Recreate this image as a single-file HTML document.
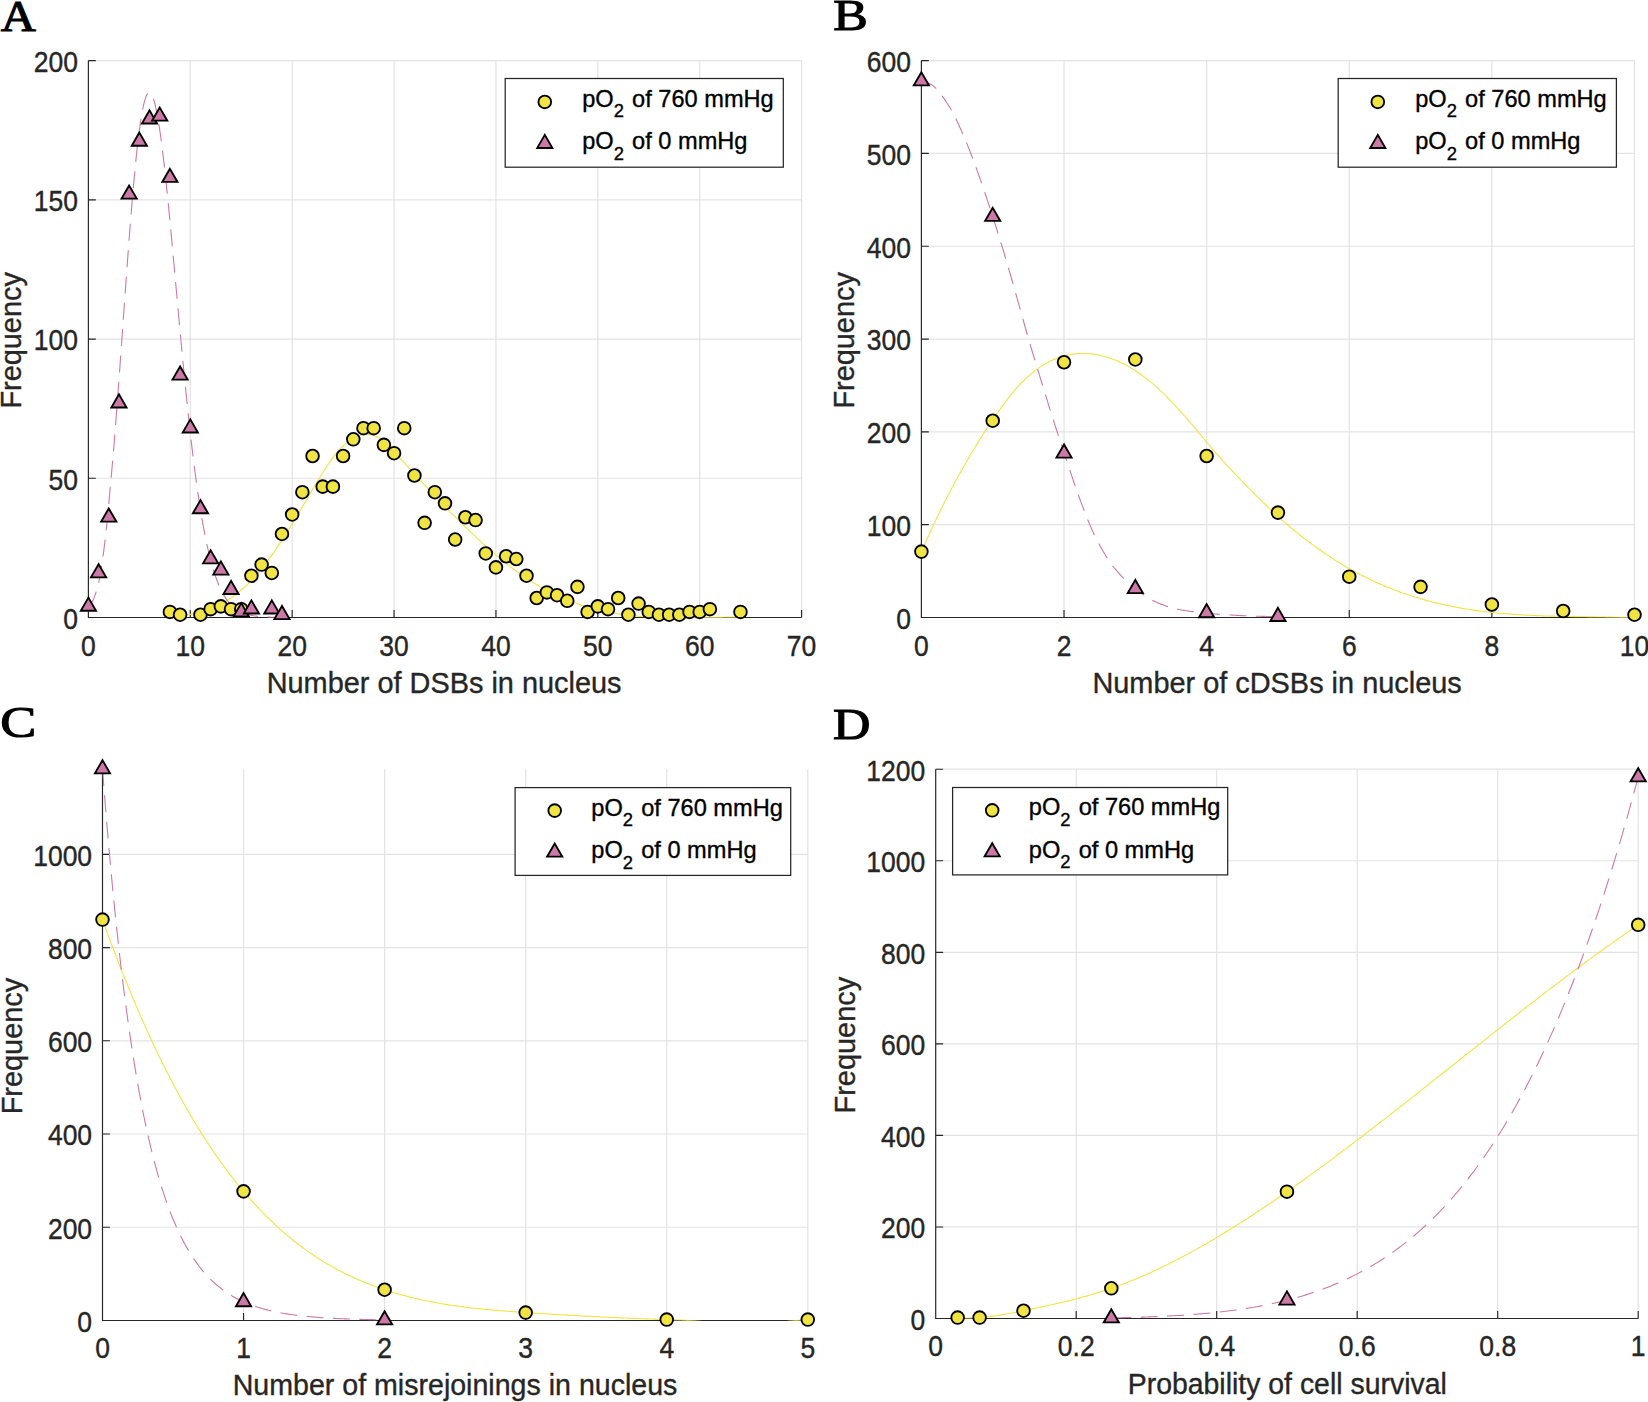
<!DOCTYPE html>
<html><head><meta charset="utf-8"><title>Figure</title>
<style>html,body{margin:0;padding:0;background:#fff}svg{display:block}text{stroke:#262626;stroke-width:0.35px;paint-order:stroke}text.lt{stroke:#000;stroke-width:1.1px;stroke-linejoin:miter}</style></head>
<body><svg width="1648" height="1402" viewBox="0 0 1648 1402" font-family="'Liberation Sans',Arial,sans-serif">
<rect width="1648" height="1402" fill="#fff"/>
<path d="M88.4 617.5V60.6M190.29 617.5V60.6M292.17 617.5V60.6M394.06 617.5V60.6M495.94 617.5V60.6M597.83 617.5V60.6M699.71 617.5V60.6M801.6 617.5V60.6M88.4 617.5H801.6M88.4 478.27H801.6M88.4 339.05H801.6M88.4 199.83H801.6M88.4 60.6H801.6" stroke="#e3e3e3" stroke-width="1.2" fill="none"/>
<clipPath id="c1"><rect x="88.4" y="60.6" width="713.2" height="557.2"/></clipPath>
<path d="M88.4 60.6V617.5H801.6M88.4 617.5v-7.4M190.29 617.5v-7.4M292.17 617.5v-7.4M394.06 617.5v-7.4M495.94 617.5v-7.4M597.83 617.5v-7.4M699.71 617.5v-7.4M801.6 617.5v-7.4M88.4 617.5h7.4M88.4 478.27h7.4M88.4 339.05h7.4M88.4 199.83h7.4M88.4 60.6h7.4" stroke="#262626" stroke-width="1.15" fill="none"/>
<path d="M164.81 616.76L166.26 616.72L167.7 616.66L169.14 616.59L170.59 616.52L172.03 616.43L173.47 616.34L174.91 616.24L176.36 616.12L177.8 615.99L179.24 615.85L180.68 615.7L182.13 615.53L183.57 615.35L185.01 615.15L186.46 614.94L187.9 614.71L189.34 614.47L190.78 614.21L192.23 613.93L193.67 613.64L195.11 613.32L196.55 612.99L198 612.63L199.44 612.26L200.88 611.86L202.33 611.45L203.77 611.01L205.21 610.55L206.65 610.06L208.1 609.55L209.54 609.02L210.98 608.46L212.42 607.88L213.87 607.27L215.31 606.64L216.75 605.97L218.2 605.28L219.64 604.56L221.08 603.81L222.52 603.04L223.97 602.23L225.41 601.39L226.85 600.52L228.29 599.62L229.74 598.69L231.18 597.72L232.62 596.72L234.07 595.69L235.51 594.62L236.95 593.52L238.39 592.38L239.84 591.2L241.28 589.99L242.72 588.74L244.17 587.45L245.61 586.13L247.05 584.76L248.49 583.36L249.94 581.91L251.38 580.43L252.82 578.9L254.26 577.33L255.71 575.72L257.15 574.06L258.59 572.37L260.04 570.63L261.48 568.86L262.92 567.05L264.36 565.2L265.81 563.32L267.25 561.4L268.69 559.44L270.13 557.46L271.58 555.44L273.02 553.4L274.46 551.32L275.91 549.22L277.35 547.08L278.79 544.93L280.23 542.74L281.68 540.54L283.12 538.31L284.56 536.06L286 533.79L287.45 531.5L288.89 529.19L290.33 526.86L291.78 524.51L293.22 522.15L294.66 519.78L296.1 517.39L297.55 515L298.99 512.59L300.43 510.17L301.87 507.74L303.32 505.3L304.76 502.86L306.2 500.41L307.65 497.96L309.09 495.5L310.53 493.04L311.97 490.58L313.42 488.12L314.86 485.68L316.3 483.24L317.74 480.83L319.19 478.43L320.63 476.07L322.07 473.73L323.52 471.43L324.96 469.17L326.4 466.96L327.84 464.79L329.29 462.67L330.73 460.62L332.17 458.63L333.62 456.7L335.06 454.84L336.5 453.06L337.94 451.36L339.39 449.74L340.83 448.2L342.27 446.73L343.71 445.35L345.16 444.05L346.6 442.82L348.04 441.68L349.49 440.62L350.93 439.63L352.37 438.73L353.81 437.91L355.26 437.18L356.7 436.52L358.14 435.95L359.58 435.46L361.03 435.05L362.47 434.74L363.91 434.51L365.36 434.37L366.8 434.33L368.24 434.38L369.68 434.53L371.13 434.78L372.57 435.12L374.01 435.58L375.45 436.13L376.9 436.8L378.34 437.57L379.78 438.45L381.23 439.43L382.67 440.5L384.11 441.66L385.55 442.9L387 444.2L388.44 445.57L389.88 447L391.32 448.47L392.77 449.98L394.21 451.53L395.65 453.11L397.1 454.7L398.54 456.31L399.98 457.92L401.42 459.53L402.87 461.13L404.31 462.74L405.75 464.34L407.2 465.93L408.64 467.53L410.08 469.12L411.52 470.71L412.97 472.29L414.41 473.87L415.85 475.45L417.29 477.02L418.74 478.59L420.18 480.16L421.62 481.72L423.07 483.28L424.51 484.84L425.95 486.39L427.39 487.94L428.84 489.48L430.28 491.02L431.72 492.56L433.16 494.09L434.61 495.61L436.05 497.13L437.49 498.65L438.94 500.16L440.38 501.67L441.82 503.17L443.26 504.67L444.71 506.17L446.15 507.65L447.59 509.14L449.03 510.62L450.48 512.09L451.92 513.56L453.36 515.02L454.81 516.48L456.25 517.93L457.69 519.37L459.13 520.81L460.58 522.24L462.02 523.67L463.46 525.09L464.9 526.5L466.35 527.91L467.79 529.31L469.23 530.7L470.68 532.09L472.12 533.46L473.56 534.83L475 536.2L476.45 537.55L477.89 538.9L479.33 540.23L480.77 541.56L482.22 542.88L483.66 544.19L485.1 545.49L486.55 546.79L487.99 548.07L489.43 549.34L490.87 550.61L492.32 551.86L493.76 553.11L495.2 554.34L496.65 555.56L498.09 556.78L499.53 557.98L500.97 559.17L502.42 560.35L503.86 561.52L505.3 562.68L506.74 563.82L508.19 564.96L509.63 566.08L511.07 567.19L512.52 568.29L513.96 569.37L515.4 570.45L516.84 571.51L518.29 572.56L519.73 573.59L521.17 574.61L522.61 575.62L524.06 576.61L525.5 577.6L526.94 578.56L528.39 579.52L529.83 580.45L531.27 581.38L532.71 582.29L534.16 583.18L535.6 584.06L537.04 584.93L538.48 585.78L539.93 586.62L541.37 587.44L542.81 588.25L544.26 589.04L545.7 589.82L547.14 590.59L548.58 591.34L550.03 592.08L551.47 592.81L552.91 593.52L554.35 594.22L555.8 594.9L557.24 595.58L558.68 596.24L560.13 596.88L561.57 597.52L563.01 598.14L564.45 598.75L565.9 599.35L567.34 599.93L568.78 600.5L570.22 601.07L571.67 601.62L573.11 602.15L574.55 602.68L576 603.19L577.44 603.7L578.88 604.19L580.32 604.67L581.77 605.14L583.21 605.6L584.65 606.05L586.1 606.49L587.54 606.92L588.98 607.33L590.42 607.74L591.87 608.14L593.31 608.52L594.75 608.9L596.19 609.27L597.64 609.62L599.08 609.97L600.52 610.31L601.97 610.64L603.41 610.96L604.85 611.27L606.29 611.57L607.74 611.87L609.18 612.15L610.62 612.43L612.06 612.69L613.51 612.95L614.95 613.2L616.39 613.45L617.84 613.68L619.28 613.91L620.72 614.13L622.16 614.34L623.61 614.54L625.05 614.74L626.49 614.93L627.93 615.11L629.38 615.29L630.82 615.46L632.26 615.62L633.71 615.77L635.15 615.92L636.59 616.06L638.03 616.2L639.48 616.33L640.92 616.45L642.36 616.57L643.8 616.68L645.25 616.78L646.69 616.88L648.13 616.98L649.58 617.07L651.02 617.15L652.46 617.23L653.9 617.3L655.35 617.37L656.79 617.44L658.23 617.5L659.67 617.5L661.12 617.5L662.56 617.5L664 617.5L665.45 617.5L666.89 617.5L668.33 617.5L669.77 617.5L671.22 617.5L672.66 617.5L674.1 617.5L675.55 617.5L676.99 617.5L678.43 617.5L679.87 617.5L681.32 617.5L682.76 617.5L684.2 617.5L685.64 617.5L687.09 617.5L688.53 617.5L689.97 617.5L691.42 617.5L692.86 617.5L694.3 617.5L695.74 617.5L697.19 617.5L698.63 617.5L700.07 617.5L701.51 617.5L702.96 617.5L704.4 617.5L705.84 617.5L707.29 617.5L708.73 617.5L710.17 617.5L711.61 617.5L713.06 617.49L714.5 617.46L715.94 617.44L717.38 617.41L718.83 617.38L720.27 617.35L721.71 617.33L723.16 617.3L724.6 617.27L726.04 617.25L727.48 617.23L728.93 617.2L730.37 617.18L731.81 617.16L733.25 617.14L734.7 617.13L736.14 617.11L737.58 617.1L739.03 617.09L740.47 617.08" stroke="#f0e442" stroke-width="1.1" fill="none" clip-path="url(#c1)"/>
<path d="M88.4 606.36L88.89 606.02L89.39 605.58L89.88 605.06L90.37 604.47L90.86 603.81L91.36 603.09L91.85 602.33L92.34 601.53L92.84 600.62L93.33 599.58L93.82 598.44L94.31 597.2L94.81 595.88L95.3 594.49L95.79 593.04L96.29 591.54L96.78 589.97L97.27 588.28L97.76 586.45L98.26 584.48L98.75 582.35L99.24 580.06L99.74 577.47L100.23 574.49L100.72 571.29L101.21 568.03L101.71 564.87L102.2 561.72L102.69 558.5L103.18 555.12L103.68 551.51L104.17 547.59L104.66 543.44L105.16 539.14L105.65 534.74L106.14 530.3L106.63 525.74L107.13 520.91L107.62 515.92L108.11 510.81L108.61 505.54L109.1 500.17L109.59 494.69L110.08 489.13L110.58 483.72L111.07 478.42L111.56 472.99L112.06 467.46L112.55 461.84L113.04 456.15L113.53 450.39L114.03 444.5L114.52 438.41L115.01 432.23L115.51 425.97L116 419.62L116.49 413.2L116.98 406.7L117.48 400.13L117.97 393.5L118.46 386.81L118.96 380.07L119.45 373.28L119.94 366.45L120.43 359.58L120.93 352.68L121.42 345.76L121.91 338.82L122.41 331.86L122.9 324.9L123.39 317.94L123.88 310.98L124.38 304.04L124.87 297.12L125.36 290.22L125.86 283.35L126.35 276.52L126.84 269.74L127.33 263.01L127.83 256.33L128.32 249.72L128.81 243.18L129.3 236.71L129.8 230.33L130.29 224.04L130.78 217.83L131.28 211.73L131.77 205.73L132.26 199.85L132.75 194.08L133.25 188.43L133.74 182.91L134.23 177.51L134.73 172.26L135.22 167.14L135.71 162.17L136.2 157.35L136.7 152.68L137.19 148.16L137.68 143.81L138.18 139.62L138.67 135.6L139.16 131.74L139.65 128.06L140.15 124.55L140.64 121.21L141.13 118.06L141.63 115.09L142.12 112.29L142.61 109.69L143.1 107.26L143.6 105.02L144.09 102.97L144.58 101.1L145.08 99.42L145.57 97.93L146.06 96.62L146.55 95.5L147.05 94.56L147.54 93.81L148.03 93.24L148.53 92.86L149.02 92.66L149.51 92.63L150 92.79L150.5 93.12L150.99 93.63L151.48 94.32L151.98 95.18L152.47 96.21L152.96 97.41L153.45 98.78L153.95 100.31L154.44 102.01L154.93 103.88L155.42 105.9L155.92 108.07L156.41 110.4L156.9 112.89L157.4 115.52L157.89 118.29L158.38 121.2L158.87 124.26L159.37 127.45L159.86 130.76L160.35 134.21L160.85 137.78L161.34 141.47L161.83 145.28L162.32 149.19L162.82 153.22L163.31 157.35L163.8 161.58L164.3 165.91L164.79 170.33L165.28 174.84L165.77 179.43L166.27 184.1L166.76 188.85L167.25 193.66L167.75 198.55L168.24 203.5L168.73 208.51L169.22 213.57L169.72 218.69L170.21 223.85L170.7 229.05L171.2 234.29L171.69 239.57L172.18 244.88L172.67 250.22L173.17 255.58L173.66 260.96L174.15 266.36L174.65 271.76L175.14 277.18L175.63 282.61L176.12 288.03L176.62 293.46L177.11 298.88L177.6 304.29L178.1 309.69L178.59 315.08L179.08 320.45L179.57 325.81L180.07 331.14L180.56 336.44L181.05 341.72L181.54 346.97L182.04 352.19L182.53 357.37L183.02 362.51L183.52 367.62L184.01 372.68L184.5 377.71L184.99 382.68L185.49 387.62L185.98 392.5L186.47 397.33L186.97 402.11L187.46 406.84L187.95 411.52L188.44 416.14L188.94 420.7L189.43 425.21L189.92 429.66L190.42 434.04L190.91 438.37L191.4 442.64L191.89 446.84L192.39 450.98L192.88 455.06L193.37 459.08L193.87 463.03L194.36 466.92L194.85 470.74L195.34 474.5L195.84 478.19L196.33 481.82L196.82 485.39L197.32 488.88L197.81 492.32L198.3 495.69L198.79 498.99L199.29 502.23L199.78 505.41L200.27 508.52L200.77 511.56L201.26 514.55L201.75 517.47L202.24 520.33L202.74 523.13L203.23 525.86L203.72 528.54L204.22 531.16L204.71 533.71L205.2 536.21L205.69 538.65L206.19 541.03L206.68 543.35L207.17 545.62L207.67 547.84L208.16 550L208.65 552.1L209.14 554.15L209.64 556.15L210.13 558.1L210.62 560L211.11 561.85L211.61 563.65L212.1 565.4L212.59 567.1L213.09 568.76L213.58 570.37L214.07 571.94L214.56 573.46L215.06 574.94L215.55 576.38L216.04 577.78L216.54 579.14L217.03 580.45L217.52 581.73L218.01 582.97L218.51 584.18L219 585.35L219.49 586.48L219.99 587.58L220.48 588.64L220.97 589.67L221.46 590.67L221.96 591.64L222.45 592.58L222.94 593.49L223.44 594.36L223.93 595.22L224.42 596.04L224.91 596.83L225.41 597.6L225.9 598.35L226.39 599.07L226.89 599.76L227.38 600.44L227.87 601.09L228.36 601.71L228.86 602.32L229.35 602.91L229.84 603.47L230.34 604.02L230.83 604.54L231.32 605.05L231.81 605.54L232.31 606.01L232.8 606.47L233.29 606.91L233.79 607.33L234.28 607.74L234.77 608.13L235.26 608.51L235.76 608.87L236.25 609.23L236.74 609.56L237.23 609.89L237.73 610.2L238.22 610.5L238.71 610.79L239.21 611.07L239.7 611.34L240.19 611.6L240.68 611.85L241.18 612.08L241.67 612.31L242.16 612.53L242.66 612.75L243.15 612.95L243.64 613.14L244.13 613.33L244.63 613.51L245.12 613.68L245.61 613.85L246.11 614.01L246.6 614.16L247.09 614.31L247.58 614.45L248.08 614.58L248.57 614.71L249.06 614.83L249.56 614.95L250.05 615.07L250.54 615.18L251.03 615.28L251.53 615.38L252.02 615.48L252.51 615.57L253.01 615.65L253.5 615.74L253.99 615.82L254.48 615.9L254.98 615.97L255.47 616.04L255.96 616.11L256.46 616.17L256.95 616.23L257.44 616.29L257.93 616.35L258.43 616.4L258.92 616.45L259.41 616.5L259.91 616.55L260.4 616.59L260.89 616.64L261.38 616.68L261.88 616.72L262.37 616.75L262.86 616.79L263.35 616.82L263.85 616.86L264.34 616.89L264.83 616.92L265.33 616.95L265.82 616.97L266.31 617L266.8 617.02L267.3 617.05L267.79 617.07L268.28 617.09L268.78 617.11L269.27 617.13L269.76 617.15L270.25 617.16L270.75 617.18L271.24 617.2L271.73 617.21L272.23 617.23L272.72 617.24L273.21 617.25L273.7 617.27L274.2 617.28L274.69 617.29L275.18 617.3L275.68 617.31L276.17 617.32L276.66 617.33L277.15 617.34L277.65 617.35L278.14 617.35L278.63 617.36L279.13 617.37L279.62 617.37L280.11 617.38L280.6 617.39L281.1 617.39L281.59 617.4L282.08 617.4L282.58 617.41L283.07 617.41L283.56 617.42L284.05 617.42L284.55 617.43L285.04 617.43" stroke="#cc79a7" stroke-width="1.1" fill="none" clip-path="url(#c1)" stroke-dasharray="17 9.4"/>
<g fill="#f0e442" stroke="#000" stroke-width="1.85"><circle cx="169.91" cy="611.93" r="6.35"/><circle cx="180.1" cy="614.72" r="6.35"/><circle cx="200.47" cy="614.72" r="6.35"/><circle cx="210.66" cy="609.15" r="6.35"/><circle cx="220.85" cy="606.36" r="6.35"/><circle cx="231.04" cy="609.15" r="6.35"/><circle cx="241.23" cy="609.15" r="6.35"/><circle cx="251.42" cy="575.73" r="6.35"/><circle cx="261.61" cy="564.59" r="6.35"/><circle cx="271.79" cy="572.95" r="6.35"/><circle cx="281.98" cy="533.97" r="6.35"/><circle cx="292.17" cy="514.47" r="6.35"/><circle cx="302.36" cy="492.2" r="6.35"/><circle cx="312.55" cy="456" r="6.35"/><circle cx="322.74" cy="486.63" r="6.35"/><circle cx="332.93" cy="486.63" r="6.35"/><circle cx="343.11" cy="456" r="6.35"/><circle cx="353.3" cy="439.29" r="6.35"/><circle cx="363.49" cy="428.15" r="6.35"/><circle cx="373.68" cy="428.15" r="6.35"/><circle cx="383.87" cy="444.86" r="6.35"/><circle cx="394.06" cy="453.21" r="6.35"/><circle cx="404.25" cy="428.15" r="6.35"/><circle cx="414.43" cy="475.49" r="6.35"/><circle cx="424.62" cy="522.83" r="6.35"/><circle cx="434.81" cy="492.2" r="6.35"/><circle cx="445" cy="503.34" r="6.35"/><circle cx="455.19" cy="539.53" r="6.35"/><circle cx="465.38" cy="517.26" r="6.35"/><circle cx="475.57" cy="520.04" r="6.35"/><circle cx="485.75" cy="553.46" r="6.35"/><circle cx="495.94" cy="567.38" r="6.35"/><circle cx="506.13" cy="556.24" r="6.35"/><circle cx="516.32" cy="559.03" r="6.35"/><circle cx="526.51" cy="575.73" r="6.35"/><circle cx="536.7" cy="598.01" r="6.35"/><circle cx="546.89" cy="592.44" r="6.35"/><circle cx="557.07" cy="595.22" r="6.35"/><circle cx="567.26" cy="600.79" r="6.35"/><circle cx="577.45" cy="586.87" r="6.35"/><circle cx="587.64" cy="611.93" r="6.35"/><circle cx="597.83" cy="606.36" r="6.35"/><circle cx="608.02" cy="609.15" r="6.35"/><circle cx="618.21" cy="598.01" r="6.35"/><circle cx="628.39" cy="614.72" r="6.35"/><circle cx="638.58" cy="603.58" r="6.35"/><circle cx="648.77" cy="611.93" r="6.35"/><circle cx="658.96" cy="614.72" r="6.35"/><circle cx="669.15" cy="614.72" r="6.35"/><circle cx="679.34" cy="614.72" r="6.35"/><circle cx="689.53" cy="611.93" r="6.35"/><circle cx="699.71" cy="611.93" r="6.35"/><circle cx="709.9" cy="609.15" r="6.35"/><circle cx="740.47" cy="611.93" r="6.35"/></g>
<g fill="#cc79a7" stroke="#000" stroke-width="1.85" stroke-linejoin="miter"><path d="M88.4 597.59L80.8 610.75L96 610.75Z"/><path d="M98.59 564.17L90.99 577.34L106.19 577.34Z"/><path d="M108.78 508.48L101.18 521.65L116.38 521.65Z"/><path d="M118.97 394.32L111.37 407.48L126.57 407.48Z"/><path d="M129.15 185.48L121.55 198.64L136.75 198.64Z"/><path d="M139.34 132.57L131.74 145.74L146.94 145.74Z"/><path d="M149.53 110.3L141.93 123.46L157.13 123.46Z"/><path d="M159.72 107.51L152.12 120.68L167.32 120.68Z"/><path d="M169.91 168.77L162.31 181.94L177.51 181.94Z"/><path d="M180.1 366.47L172.5 379.64L187.7 379.64Z"/><path d="M190.29 419.38L182.69 432.54L197.89 432.54Z"/><path d="M200.47 500.13L192.87 513.29L208.07 513.29Z"/><path d="M210.66 550.25L203.06 563.41L218.26 563.41Z"/><path d="M220.85 561.39L213.25 574.55L228.45 574.55Z"/><path d="M231.04 580.88L223.44 594.04L238.64 594.04Z"/><path d="M241.23 603.16L233.63 616.32L248.83 616.32Z"/><path d="M251.42 600.37L243.82 613.53L259.02 613.53Z"/><path d="M271.79 600.37L264.19 613.53L279.39 613.53Z"/><path d="M281.98 605.94L274.38 619.1L289.58 619.1Z"/></g>
<g font-size="26.5" fill="#262626" text-anchor="middle"><text transform="translate(88.4 656.3) scale(1 1.09)">0</text><text transform="translate(190.29 656.3) scale(1 1.09)">10</text><text transform="translate(292.17 656.3) scale(1 1.09)">20</text><text transform="translate(394.06 656.3) scale(1 1.09)">30</text><text transform="translate(495.94 656.3) scale(1 1.09)">40</text><text transform="translate(597.83 656.3) scale(1 1.09)">50</text><text transform="translate(699.71 656.3) scale(1 1.09)">60</text><text transform="translate(801.6 656.3) scale(1 1.09)">70</text></g>
<g font-size="26.5" fill="#262626" text-anchor="end"><text transform="translate(78 628.9) scale(1 1.09)">0</text><text transform="translate(78 489.67) scale(1 1.09)">50</text><text transform="translate(78 350.45) scale(1 1.09)">100</text><text transform="translate(78 211.23) scale(1 1.09)">150</text><text transform="translate(78 72) scale(1 1.09)">200</text></g>
<text transform="translate(444.1 693.1) scale(1 1.03)" font-size="28.9" fill="#262626" text-anchor="middle">Number of DSBs in nucleus</text>
<text transform="translate(21.1 340.35) rotate(-90) scale(1 1.03)" font-size="28.9" fill="#262626" text-anchor="middle">Frequency</text>
<rect x="505.2" y="78.5" width="278.1" height="88.7" fill="#fff" stroke="#262626" stroke-width="1.25"/>
<circle cx="544.8" cy="101.95" r="6.35" fill="#f0e442" stroke="#000" stroke-width="1.85"/>
<path d="M544.8 134.87L537.2 148.04L552.4 148.04Z" fill="#cc79a7" stroke="#000" stroke-width="1.85"/>
<text x="582.2" y="106.85" font-size="23.6" fill="#000" style="stroke:#000">pO<tspan font-size="18.41" dy="10.6">2</tspan><tspan dy="-10.6" dx="1.6"> of 760 mmHg</tspan></text>
<text x="582.2" y="149.45" font-size="23.6" fill="#000" style="stroke:#000">pO<tspan font-size="18.41" dy="10.6">2</tspan><tspan dy="-10.6" dx="1.6"> of 0 mmHg</tspan></text>
<text class="lt" x="0.7" y="30.5" font-family="'Liberation Serif',serif" font-size="44.6" fill="#000" textLength="35.1" lengthAdjust="spacingAndGlyphs">A</text>
<path d="M921.4 617.5V60.6M1064.02 617.5V60.6M1206.64 617.5V60.6M1349.26 617.5V60.6M1491.88 617.5V60.6M1634.5 617.5V60.6M921.4 617.5H1634.5M921.4 524.68H1634.5M921.4 431.87H1634.5M921.4 339.05H1634.5M921.4 246.23H1634.5M921.4 153.42H1634.5M921.4 60.6H1634.5" stroke="#e3e3e3" stroke-width="1.2" fill="none"/>
<clipPath id="c2"><rect x="921.4" y="60.6" width="713.1" height="557.2"/></clipPath>
<path d="M921.4 60.6V617.5H1634.5M921.4 617.5v-7.4M1064.02 617.5v-7.4M1206.64 617.5v-7.4M1349.26 617.5v-7.4M1491.88 617.5v-7.4M1634.5 617.5v-7.4M921.4 617.5h7.4M921.4 524.68h7.4M921.4 431.87h7.4M921.4 339.05h7.4M921.4 246.23h7.4M921.4 153.42h7.4M921.4 60.6h7.4" stroke="#262626" stroke-width="1.15" fill="none"/>
<path d="M921.4 552.04L923.19 547.89L924.97 543.8L926.76 539.76L928.55 535.77L930.34 531.83L932.12 527.94L933.91 524.11L935.7 520.32L937.48 516.58L939.27 512.89L941.06 509.24L942.85 505.64L944.63 502.08L946.42 498.56L948.21 495.09L950 491.65L951.78 488.26L953.57 484.91L955.36 481.59L957.14 478.31L958.93 475.06L960.72 471.86L962.51 468.68L964.29 465.54L966.08 462.43L967.87 459.35L969.65 456.3L971.44 453.27L973.23 450.28L975.02 447.32L976.8 444.38L978.59 441.47L980.38 438.59L982.17 435.74L983.95 432.92L985.74 430.14L987.53 427.39L989.31 424.67L991.1 421.98L992.89 419.33L994.68 416.72L996.46 414.14L998.25 411.6L1000.04 409.09L1001.82 406.63L1003.61 404.21L1005.4 401.83L1007.19 399.49L1008.97 397.21L1010.76 394.98L1012.55 392.8L1014.34 390.68L1016.12 388.62L1017.91 386.62L1019.7 384.68L1021.48 382.81L1023.27 381.01L1025.06 379.27L1026.85 377.59L1028.63 375.98L1030.42 374.42L1032.21 372.93L1033.99 371.51L1035.78 370.14L1037.57 368.83L1039.36 367.58L1041.14 366.39L1042.93 365.25L1044.72 364.18L1046.51 363.15L1048.29 362.19L1050.08 361.28L1051.87 360.42L1053.65 359.62L1055.44 358.87L1057.23 358.17L1059.02 357.52L1060.8 356.92L1062.59 356.38L1064.38 355.88L1066.16 355.43L1067.95 355.03L1069.74 354.68L1071.53 354.37L1073.31 354.11L1075.1 353.89L1076.89 353.72L1078.68 353.59L1080.46 353.51L1082.25 353.47L1084.04 353.47L1085.82 353.51L1087.61 353.59L1089.4 353.72L1091.19 353.88L1092.97 354.09L1094.76 354.34L1096.55 354.63L1098.33 354.96L1100.12 355.33L1101.91 355.74L1103.7 356.19L1105.48 356.69L1107.27 357.22L1109.06 357.79L1110.85 358.4L1112.63 359.05L1114.42 359.74L1116.21 360.47L1117.99 361.24L1119.78 362.05L1121.57 362.9L1123.36 363.78L1125.14 364.71L1126.93 365.67L1128.72 366.67L1130.5 367.71L1132.29 368.78L1134.08 369.9L1135.87 371.05L1137.65 372.24L1139.44 373.46L1141.23 374.73L1143.02 376.03L1144.8 377.37L1146.59 378.74L1148.38 380.15L1150.16 381.6L1151.95 383.08L1153.74 384.6L1155.53 386.16L1157.31 387.75L1159.1 389.37L1160.89 391.03L1162.67 392.72L1164.46 394.45L1166.25 396.2L1168.04 397.99L1169.82 399.8L1171.61 401.65L1173.4 403.52L1175.18 405.42L1176.97 407.35L1178.76 409.3L1180.55 411.28L1182.33 413.29L1184.12 415.32L1185.91 417.37L1187.7 419.45L1189.48 421.55L1191.27 423.67L1193.06 425.81L1194.84 427.96L1196.63 430.11L1198.42 432.28L1200.21 434.44L1201.99 436.6L1203.78 438.75L1205.57 440.89L1207.35 443.01L1209.14 445.11L1210.93 447.2L1212.72 449.27L1214.5 451.32L1216.29 453.36L1218.08 455.38L1219.87 457.38L1221.65 459.38L1223.44 461.35L1225.23 463.32L1227.01 465.27L1228.8 467.21L1230.59 469.13L1232.38 471.05L1234.16 472.95L1235.95 474.84L1237.74 476.73L1239.52 478.6L1241.31 480.46L1243.1 482.32L1244.89 484.16L1246.67 486L1248.46 487.83L1250.25 489.64L1252.04 491.45L1253.82 493.24L1255.61 495.03L1257.4 496.8L1259.18 498.56L1260.97 500.31L1262.76 502.05L1264.55 503.77L1266.33 505.49L1268.12 507.19L1269.91 508.87L1271.69 510.55L1273.48 512.21L1275.27 513.85L1277.06 515.48L1278.84 517.1L1280.63 518.7L1282.42 520.29L1284.21 521.86L1285.99 523.42L1287.78 524.96L1289.57 526.49L1291.35 527.99L1293.14 529.49L1294.93 530.96L1296.72 532.42L1298.5 533.87L1300.29 535.3L1302.08 536.71L1303.86 538.11L1305.65 539.49L1307.44 540.86L1309.23 542.21L1311.01 543.55L1312.8 544.87L1314.59 546.17L1316.38 547.46L1318.16 548.74L1319.95 550L1321.74 551.24L1323.52 552.47L1325.31 553.69L1327.1 554.89L1328.89 556.08L1330.67 557.25L1332.46 558.4L1334.25 559.54L1336.03 560.67L1337.82 561.79L1339.61 562.88L1341.4 563.97L1343.18 565.04L1344.97 566.09L1346.76 567.14L1348.55 568.16L1350.33 569.18L1352.12 570.18L1353.91 571.16L1355.69 572.14L1357.48 573.1L1359.27 574.04L1361.06 574.97L1362.84 575.89L1364.63 576.79L1366.42 577.69L1368.2 578.56L1369.99 579.43L1371.78 580.28L1373.57 581.12L1375.35 581.94L1377.14 582.75L1378.93 583.55L1380.72 584.34L1382.5 585.11L1384.29 585.87L1386.08 586.62L1387.86 587.36L1389.65 588.08L1391.44 588.79L1393.23 589.49L1395.01 590.18L1396.8 590.85L1398.59 591.52L1400.37 592.17L1402.16 592.81L1403.95 593.44L1405.74 594.05L1407.52 594.66L1409.31 595.25L1411.1 595.84L1412.88 596.41L1414.67 596.97L1416.46 597.52L1418.25 598.06L1420.03 598.59L1421.82 599.11L1423.61 599.62L1425.4 600.12L1427.18 600.6L1428.97 601.08L1430.76 601.55L1432.54 602.01L1434.33 602.46L1436.12 602.9L1437.91 603.33L1439.69 603.75L1441.48 604.16L1443.27 604.56L1445.05 604.95L1446.84 605.34L1448.63 605.71L1450.42 606.08L1452.2 606.44L1453.99 606.79L1455.78 607.13L1457.57 607.46L1459.35 607.79L1461.14 608.11L1462.93 608.42L1464.71 608.72L1466.5 609.01L1468.29 609.3L1470.08 609.57L1471.86 609.85L1473.65 610.11L1475.44 610.37L1477.22 610.62L1479.01 610.86L1480.8 611.09L1482.59 611.32L1484.37 611.55L1486.16 611.76L1487.95 611.97L1489.74 612.17L1491.52 612.37L1493.31 612.56L1495.1 612.75L1496.88 612.93L1498.67 613.1L1500.46 613.27L1502.25 613.43L1504.03 613.59L1505.82 613.74L1507.61 613.88L1509.39 614.02L1511.18 614.16L1512.97 614.29L1514.76 614.42L1516.54 614.54L1518.33 614.66L1520.12 614.77L1521.91 614.88L1523.69 614.98L1525.48 615.08L1527.27 615.18L1529.05 615.27L1530.84 615.36L1532.63 615.44L1534.42 615.52L1536.2 615.6L1537.99 615.68L1539.78 615.75L1541.56 615.81L1543.35 615.88L1545.14 615.94L1546.93 616L1548.71 616.06L1550.5 616.11L1552.29 616.16L1554.08 616.21L1555.86 616.26L1557.65 616.3L1559.44 616.34L1561.22 616.38L1563.01 616.42L1564.8 616.46L1566.59 616.49L1568.37 616.53L1570.16 616.56L1571.95 616.59L1573.73 616.62L1575.52 616.65L1577.31 616.68L1579.1 616.7L1580.88 616.73L1582.67 616.75L1584.46 616.78L1586.25 616.8L1588.03 616.83L1589.82 616.85L1591.61 616.88L1593.39 616.9L1595.18 616.92L1596.97 616.95L1598.76 616.97L1600.54 617L1602.33 617.02L1604.12 617.05L1605.9 617.08L1607.69 617.1L1609.48 617.13L1611.27 617.16L1613.05 617.19L1614.84 617.23L1616.63 617.26L1618.42 617.3L1620.2 617.33L1621.99 617.37L1623.78 617.41L1625.56 617.45L1627.35 617.5L1629.14 617.5L1630.93 617.5L1632.71 617.5L1634.5 617.5" stroke="#f0e442" stroke-width="1.1" fill="none" clip-path="url(#c2)"/>
<path d="M921.4 81.02L922.59 81.16L923.78 81.41L924.98 81.76L926.17 82.2L927.36 82.7L928.55 83.26L929.75 83.86L930.94 84.49L932.13 85.17L933.32 85.99L934.52 86.96L935.71 88.06L936.9 89.29L938.09 90.62L939.29 92.06L940.48 93.59L941.67 95.19L942.86 96.87L944.06 98.6L945.25 100.37L946.44 102.18L947.63 104.02L948.83 105.86L950.02 107.72L951.21 109.7L952.4 111.83L953.6 114.09L954.79 116.45L955.98 118.9L957.17 121.43L958.37 124.02L959.56 126.65L960.75 129.31L961.94 131.97L963.14 134.65L964.33 137.4L965.52 140.24L966.71 143.14L967.91 146.1L969.1 149.11L970.29 152.16L971.48 155.24L972.68 158.37L973.87 161.56L975.06 164.81L976.25 168.09L977.45 171.42L978.64 174.79L979.83 178.17L981.02 181.58L982.22 185.02L983.41 188.49L984.6 191.99L985.79 195.52L986.99 199.08L988.18 202.67L989.37 206.28L990.56 209.92L991.76 213.59L992.95 217.27L994.14 220.98L995.33 224.73L996.53 228.5L997.72 232.31L998.91 236.14L1000.1 240.01L1001.3 243.9L1002.49 247.83L1003.68 251.79L1004.87 255.78L1006.07 259.82L1007.26 263.89L1008.45 267.99L1009.64 272.12L1010.84 276.27L1012.03 280.44L1013.22 284.62L1014.41 288.81L1015.61 293L1016.8 297.19L1017.99 301.38L1019.18 305.61L1020.38 309.87L1021.57 314.15L1022.76 318.45L1023.95 322.73L1025.15 327L1026.34 331.24L1027.53 335.42L1028.72 339.54L1029.92 343.61L1031.11 347.63L1032.3 351.61L1033.49 355.56L1034.69 359.5L1035.88 363.42L1037.07 367.33L1038.26 371.25L1039.46 375.18L1040.65 379.1L1041.84 383.01L1043.03 386.92L1044.22 390.82L1045.42 394.71L1046.61 398.58L1047.8 402.43L1048.99 406.27L1050.19 410.08L1051.38 413.87L1052.57 417.63L1053.76 421.37L1054.96 425.08L1056.15 428.78L1057.34 432.46L1058.53 436.12L1059.73 439.77L1060.92 443.4L1062.11 447.02L1063.3 450.62L1064.5 454.21L1065.69 457.78L1066.88 461.33L1068.07 464.88L1069.27 468.43L1070.46 472L1071.65 475.57L1072.84 479.12L1074.04 482.64L1075.23 486.13L1076.42 489.57L1077.61 492.95L1078.81 496.25L1080 499.47L1081.19 502.67L1082.38 505.85L1083.58 509.01L1084.77 512.13L1085.96 515.22L1087.15 518.24L1088.35 521.21L1089.54 524.09L1090.73 526.89L1091.92 529.59L1093.12 532.18L1094.31 534.66L1095.5 537.07L1096.69 539.43L1097.89 541.75L1099.08 544.01L1100.27 546.23L1101.46 548.39L1102.66 550.49L1103.85 552.54L1105.04 554.54L1106.23 556.47L1107.43 558.34L1108.62 560.14L1109.81 561.88L1111 563.56L1112.2 565.17L1113.39 566.72L1114.58 568.23L1115.77 569.69L1116.97 571.1L1118.16 572.47L1119.35 573.81L1120.54 575.1L1121.74 576.37L1122.93 577.6L1124.12 578.81L1125.31 579.99L1126.51 581.15L1127.7 582.27L1128.89 583.36L1130.08 584.42L1131.28 585.45L1132.47 586.45L1133.66 587.42L1134.85 588.36L1136.05 589.28L1137.24 590.2L1138.43 591.12L1139.62 592.03L1140.82 592.93L1142.01 593.81L1143.2 594.68L1144.39 595.52L1145.59 596.34L1146.78 597.13L1147.97 597.88L1149.16 598.59L1150.36 599.27L1151.55 599.89L1152.74 600.47L1153.93 601.02L1155.13 601.57L1156.32 602.1L1157.51 602.63L1158.7 603.14L1159.89 603.64L1161.09 604.13L1162.28 604.6L1163.47 605.06L1164.66 605.51L1165.86 605.94L1167.05 606.36L1168.24 606.76L1169.43 607.14L1170.63 607.51L1171.82 607.86L1173.01 608.19L1174.2 608.5L1175.4 608.79L1176.59 609.06L1177.78 609.31L1178.97 609.54L1180.17 609.76L1181.36 609.98L1182.55 610.18L1183.74 610.38L1184.94 610.58L1186.13 610.77L1187.32 610.95L1188.51 611.13L1189.71 611.3L1190.9 611.47L1192.09 611.64L1193.28 611.8L1194.48 611.95L1195.67 612.1L1196.86 612.24L1198.05 612.38L1199.25 612.52L1200.44 612.65L1201.63 612.78L1202.82 612.9L1204.02 613.02L1205.21 613.14L1206.4 613.25L1207.59 613.36L1208.79 613.47L1209.98 613.57L1211.17 613.67L1212.36 613.76L1213.56 613.85L1214.75 613.94L1215.94 614.03L1217.13 614.11L1218.33 614.2L1219.52 614.28L1220.71 614.36L1221.9 614.44L1223.1 614.52L1224.29 614.6L1225.48 614.68L1226.67 614.76L1227.87 614.83L1229.06 614.91L1230.25 614.98L1231.44 615.06L1232.64 615.13L1233.83 615.2L1235.02 615.26L1236.21 615.33L1237.41 615.4L1238.6 615.46L1239.79 615.52L1240.98 615.58L1242.18 615.64L1243.37 615.7L1244.56 615.76L1245.75 615.81L1246.95 615.86L1248.14 615.91L1249.33 615.96L1250.52 616.01L1251.72 616.05L1252.91 616.09L1254.1 616.14L1255.29 616.17L1256.49 616.21L1257.68 616.25L1258.87 616.28L1260.06 616.31L1261.26 616.34L1262.45 616.36L1263.64 616.39L1264.83 616.41L1266.03 616.43L1267.22 616.45L1268.41 616.47L1269.6 616.49L1270.8 616.5L1271.99 616.52L1273.18 616.53L1274.37 616.55L1275.57 616.56L1276.76 616.57L1277.95 616.57" stroke="#cc79a7" stroke-width="1.1" fill="none" clip-path="url(#c2)" stroke-dasharray="17 9.4"/>
<g fill="#f0e442" stroke="#000" stroke-width="1.85"><circle cx="921.4" cy="551.6" r="6.35"/><circle cx="992.71" cy="420.73" r="6.35"/><circle cx="1064.02" cy="362.25" r="6.35"/><circle cx="1135.33" cy="359.47" r="6.35"/><circle cx="1206.64" cy="456" r="6.35"/><circle cx="1277.95" cy="512.62" r="6.35"/><circle cx="1349.26" cy="576.66" r="6.35"/><circle cx="1420.57" cy="586.87" r="6.35"/><circle cx="1491.88" cy="604.51" r="6.35"/><circle cx="1563.19" cy="611" r="6.35"/><circle cx="1634.5" cy="614.72" r="6.35"/></g>
<g fill="#cc79a7" stroke="#000" stroke-width="1.85" stroke-linejoin="miter"><path d="M921.4 72.24L913.8 85.41L929 85.41Z"/><path d="M992.71 207.76L985.11 220.92L1000.31 220.92Z"/><path d="M1064.02 444.44L1056.42 457.6L1071.62 457.6Z"/><path d="M1135.33 579.95L1127.73 593.11L1142.93 593.11Z"/><path d="M1206.64 604.08L1199.04 617.25L1214.24 617.25Z"/><path d="M1277.95 607.8L1270.35 620.96L1285.55 620.96Z"/></g>
<g font-size="26.5" fill="#262626" text-anchor="middle"><text transform="translate(921.4 656.3) scale(1 1.09)">0</text><text transform="translate(1064.02 656.3) scale(1 1.09)">2</text><text transform="translate(1206.64 656.3) scale(1 1.09)">4</text><text transform="translate(1349.26 656.3) scale(1 1.09)">6</text><text transform="translate(1491.88 656.3) scale(1 1.09)">8</text><text transform="translate(1634.5 656.3) scale(1 1.09)">10</text></g>
<g font-size="26.5" fill="#262626" text-anchor="end"><text transform="translate(911 628.9) scale(1 1.09)">0</text><text transform="translate(911 536.08) scale(1 1.09)">100</text><text transform="translate(911 443.27) scale(1 1.09)">200</text><text transform="translate(911 350.45) scale(1 1.09)">300</text><text transform="translate(911 257.63) scale(1 1.09)">400</text><text transform="translate(911 164.82) scale(1 1.09)">500</text><text transform="translate(911 72) scale(1 1.09)">600</text></g>
<text transform="translate(1277.05 693.1) scale(1 1.03)" font-size="28.9" fill="#262626" text-anchor="middle">Number of cDSBs in nucleus</text>
<text transform="translate(854.3 340.35) rotate(-90) scale(1 1.03)" font-size="28.9" fill="#262626" text-anchor="middle">Frequency</text>
<rect x="1338.2" y="78.5" width="278.2" height="88.7" fill="#fff" stroke="#262626" stroke-width="1.25"/>
<circle cx="1377.8" cy="101.95" r="6.35" fill="#f0e442" stroke="#000" stroke-width="1.85"/>
<path d="M1377.8 134.87L1370.2 148.04L1385.4 148.04Z" fill="#cc79a7" stroke="#000" stroke-width="1.85"/>
<text x="1415.2" y="106.85" font-size="23.6" fill="#000" style="stroke:#000">pO<tspan font-size="18.41" dy="10.6">2</tspan><tspan dy="-10.6" dx="1.6"> of 760 mmHg</tspan></text>
<text x="1415.2" y="149.45" font-size="23.6" fill="#000" style="stroke:#000">pO<tspan font-size="18.41" dy="10.6">2</tspan><tspan dy="-10.6" dx="1.6"> of 0 mmHg</tspan></text>
<text class="lt" x="833.3" y="30.3" font-family="'Liberation Serif',serif" font-size="44.6" fill="#000" textLength="34.6" lengthAdjust="spacingAndGlyphs">B</text>
<path d="M102.5 1320.5V769M243.56 1320.5V769M384.62 1320.5V769M525.68 1320.5V769M666.74 1320.5V769M807.8 1320.5V769M102.5 1320.5H807.8M102.5 1227.26H807.8M102.5 1134.02H807.8M102.5 1040.79H807.8M102.5 947.55H807.8M102.5 854.31H807.8" stroke="#e3e3e3" stroke-width="1.2" fill="none"/>
<clipPath id="c3"><rect x="102.5" y="769" width="705.3" height="551.8"/></clipPath>
<path d="M102.5 769V1320.5H807.8M102.5 1320.5v-7.4M243.56 1320.5v-7.4M384.62 1320.5v-7.4M525.68 1320.5v-7.4M666.74 1320.5v-7.4M807.8 1320.5v-7.4M102.5 1320.5h7.4M102.5 1227.26h7.4M102.5 1134.02h7.4M102.5 1040.79h7.4M102.5 947.55h7.4M102.5 854.31h7.4" stroke="#262626" stroke-width="1.15" fill="none"/>
<path d="M102.5 919.58L103.91 923.51L105.33 927.41L106.74 931.28L108.15 935.13L109.57 938.94L110.98 942.73L112.39 946.5L113.81 950.23L115.22 953.94L116.63 957.62L118.05 961.28L119.46 964.91L120.87 968.51L122.29 972.08L123.7 975.63L125.11 979.15L126.53 982.65L127.94 986.12L129.36 989.56L130.77 992.98L132.18 996.37L133.6 999.74L135.01 1003.08L136.42 1006.39L137.84 1009.68L139.25 1012.95L140.66 1016.19L142.08 1019.4L143.49 1022.59L144.9 1025.75L146.32 1028.89L147.73 1032.01L149.14 1035.1L150.56 1038.16L151.97 1041.21L153.38 1044.22L154.8 1047.22L156.21 1050.18L157.62 1053.13L159.04 1056.05L160.45 1058.95L161.86 1061.82L163.28 1064.67L164.69 1067.5L166.1 1070.3L167.52 1073.08L168.93 1075.84L170.34 1078.57L171.76 1081.29L173.17 1083.97L174.58 1086.64L176 1089.28L177.41 1091.9L178.83 1094.5L180.24 1097.08L181.65 1099.63L183.07 1102.17L184.48 1104.68L185.89 1107.16L187.31 1109.63L188.72 1112.08L190.13 1114.5L191.55 1116.9L192.96 1119.28L194.37 1121.64L195.79 1123.98L197.2 1126.3L198.61 1128.6L200.03 1130.87L201.44 1133.13L202.85 1135.36L204.27 1137.58L205.68 1139.77L207.09 1141.94L208.51 1144.1L209.92 1146.23L211.33 1148.34L212.75 1150.44L214.16 1152.51L215.57 1154.57L216.99 1156.6L218.4 1158.62L219.81 1160.61L221.23 1162.59L222.64 1164.55L224.05 1166.49L225.47 1168.41L226.88 1170.31L228.29 1172.19L229.71 1174.06L231.12 1175.9L232.54 1177.73L233.95 1179.54L235.36 1181.33L236.78 1183.1L238.19 1184.86L239.6 1186.6L241.02 1188.31L242.43 1190.02L243.84 1191.7L245.26 1193.37L246.67 1195.02L248.08 1196.65L249.5 1198.27L250.91 1199.87L252.32 1201.45L253.74 1203.01L255.15 1204.56L256.56 1206.09L257.98 1207.61L259.39 1209.11L260.8 1210.59L262.22 1212.06L263.63 1213.51L265.04 1214.94L266.46 1216.36L267.87 1217.76L269.28 1219.15L270.7 1220.52L272.11 1221.88L273.52 1223.22L274.94 1224.55L276.35 1225.86L277.76 1227.16L279.18 1228.44L280.59 1229.7L282.01 1230.96L283.42 1232.19L284.83 1233.42L286.25 1234.63L287.66 1235.82L289.07 1237L290.49 1238.17L291.9 1239.32L293.31 1240.46L294.73 1241.58L296.14 1242.69L297.55 1243.79L298.97 1244.88L300.38 1245.95L301.79 1247.01L303.21 1248.05L304.62 1249.08L306.03 1250.1L307.45 1251.11L308.86 1252.1L310.27 1253.08L311.69 1254.05L313.1 1255.01L314.51 1255.95L315.93 1256.88L317.34 1257.8L318.75 1258.71L320.17 1259.61L321.58 1260.49L322.99 1261.37L324.41 1262.23L325.82 1263.08L327.23 1263.92L328.65 1264.75L330.06 1265.56L331.48 1266.37L332.89 1267.16L334.3 1267.95L335.72 1268.72L337.13 1269.48L338.54 1270.24L339.96 1270.98L341.37 1271.71L342.78 1272.43L344.2 1273.15L345.61 1273.85L347.02 1274.54L348.44 1275.22L349.85 1275.9L351.26 1276.56L352.68 1277.21L354.09 1277.86L355.5 1278.49L356.92 1279.12L358.33 1279.74L359.74 1280.35L361.16 1280.95L362.57 1281.54L363.98 1282.12L365.4 1282.7L366.81 1283.26L368.22 1283.82L369.64 1284.37L371.05 1284.91L372.46 1285.45L373.88 1285.97L375.29 1286.49L376.7 1287L378.12 1287.51L379.53 1288L380.95 1288.49L382.36 1288.98L383.77 1289.45L385.19 1289.92L386.6 1290.38L388.01 1290.83L389.43 1291.28L390.84 1291.72L392.25 1292.16L393.67 1292.58L395.08 1293L396.49 1293.42L397.91 1293.83L399.32 1294.23L400.73 1294.63L402.15 1295.02L403.56 1295.4L404.97 1295.78L406.39 1296.15L407.8 1296.51L409.21 1296.87L410.63 1297.23L412.04 1297.58L413.45 1297.92L414.87 1298.26L416.28 1298.59L417.69 1298.91L419.11 1299.24L420.52 1299.55L421.93 1299.86L423.35 1300.17L424.76 1300.47L426.17 1300.76L427.59 1301.05L429 1301.33L430.42 1301.61L431.83 1301.89L433.24 1302.16L434.66 1302.43L436.07 1302.69L437.48 1302.94L438.9 1303.19L440.31 1303.44L441.72 1303.69L443.14 1303.92L444.55 1304.16L445.96 1304.39L447.38 1304.61L448.79 1304.84L450.2 1305.05L451.62 1305.27L453.03 1305.48L454.44 1305.69L455.86 1305.89L457.27 1306.09L458.68 1306.28L460.1 1306.47L461.51 1306.66L462.92 1306.85L464.34 1307.03L465.75 1307.21L467.16 1307.38L468.58 1307.55L469.99 1307.72L471.4 1307.89L472.82 1308.05L474.23 1308.21L475.64 1308.37L477.06 1308.52L478.47 1308.67L479.88 1308.82L481.3 1308.97L482.71 1309.11L484.13 1309.25L485.54 1309.39L486.95 1309.52L488.37 1309.66L489.78 1309.79L491.19 1309.92L492.61 1310.05L494.02 1310.17L495.43 1310.29L496.85 1310.42L498.26 1310.54L499.67 1310.65L501.09 1310.77L502.5 1310.88L503.91 1311L505.33 1311.11L506.74 1311.22L508.15 1311.32L509.57 1311.43L510.98 1311.54L512.39 1311.64L513.81 1311.74L515.22 1311.85L516.63 1311.95L518.05 1312.05L519.46 1312.15L520.87 1312.25L522.29 1312.34L523.7 1312.44L525.11 1312.54L526.53 1312.63L527.94 1312.73L529.35 1312.82L530.77 1312.92L532.18 1313.01L533.6 1313.1L535.01 1313.19L536.42 1313.29L537.84 1313.38L539.25 1313.47L540.66 1313.56L542.08 1313.65L543.49 1313.74L544.9 1313.82L546.32 1313.91L547.73 1314L549.14 1314.09L550.56 1314.17L551.97 1314.26L553.38 1314.34L554.8 1314.43L556.21 1314.51L557.62 1314.6L559.04 1314.68L560.45 1314.76L561.86 1314.84L563.28 1314.93L564.69 1315.01L566.1 1315.09L567.52 1315.17L568.93 1315.25L570.34 1315.33L571.76 1315.4L573.17 1315.48L574.58 1315.56L576 1315.64L577.41 1315.71L578.82 1315.79L580.24 1315.86L581.65 1315.94L583.07 1316.01L584.48 1316.09L585.89 1316.16L587.31 1316.23L588.72 1316.3L590.13 1316.38L591.55 1316.45L592.96 1316.52L594.37 1316.59L595.79 1316.66L597.2 1316.73L598.61 1316.8L600.03 1316.86L601.44 1316.93L602.85 1317L604.27 1317.07L605.68 1317.13L607.09 1317.2L608.51 1317.26L609.92 1317.33L611.33 1317.39L612.75 1317.46L614.16 1317.52L615.57 1317.59L616.99 1317.65L618.4 1317.71L619.81 1317.77L621.23 1317.83L622.64 1317.89L624.05 1317.95L625.47 1318.01L626.88 1318.07L628.29 1318.13L629.71 1318.19L631.12 1318.25L632.54 1318.31L633.95 1318.36L635.36 1318.42L636.78 1318.48L638.19 1318.53L639.6 1318.59L641.02 1318.64L642.43 1318.7L643.84 1318.75L645.26 1318.81L646.67 1318.86L648.08 1318.91L649.5 1318.96L650.91 1319.02L652.32 1319.07L653.74 1319.12L655.15 1319.17L656.56 1319.22L657.98 1319.27L659.39 1319.32L660.8 1319.37L662.22 1319.42L663.63 1319.46L665.04 1319.51L666.46 1319.56L667.87 1319.61L669.28 1319.65L670.7 1319.7L672.11 1319.75L673.52 1319.8L674.94 1319.85L676.35 1319.9L677.76 1319.95L679.18 1320.01L680.59 1320.07L682.01 1320.13L683.42 1320.2L684.83 1320.27L686.25 1320.35L687.66 1320.43L689.07 1320.51L690.49 1320.6L691.9 1320.7L693.31 1320.8L694.73 1320.91L696.14 1321.02L697.55 1321.13L698.97 1321.25L700.38 1321.36L701.79 1321.49L703.21 1321.61L704.62 1321.73L706.03 1321.86L707.45 1321.99L708.86 1322.11L710.27 1322.24L711.69 1322.37L713.1 1322.49L714.51 1322.62L715.93 1322.74L717.34 1322.86L718.75 1322.98L720.17 1323.1L721.58 1323.21L722.99 1323.32L724.41 1323.42L725.82 1323.52L727.23 1323.62L728.65 1323.71L730.06 1323.79L731.47 1323.87L732.89 1323.94L734.3 1324.01L735.72 1324.06L737.13 1324.11L738.54 1324.16L739.96 1324.19L741.37 1324.21L742.78 1324.23L744.2 1324.23L745.61 1324.23L747.02 1324.22L748.44 1324.2L749.85 1324.17L751.26 1324.13L752.68 1324.08L754.09 1324.03L755.5 1323.97L756.92 1323.9L758.33 1323.82L759.74 1323.74L761.16 1323.66L762.57 1323.56L763.98 1323.47L765.4 1323.36L766.81 1323.26L768.22 1323.15L769.64 1323.03L771.05 1322.91L772.46 1322.79L773.88 1322.66L775.29 1322.54L776.7 1322.41L778.12 1322.27L779.53 1322.14L780.94 1322L782.36 1321.86L783.77 1321.73L785.19 1321.59L786.6 1321.45L788.01 1321.31L789.43 1321.17L790.84 1321.04L792.25 1320.9L793.67 1320.77L795.08 1320.63L796.49 1320.5L797.91 1320.37L799.32 1320.25L800.73 1320.13L802.15 1320.01L803.56 1319.89L804.97 1319.78L806.39 1319.67L807.8 1319.57" stroke="#f0e442" stroke-width="1.1" fill="none" clip-path="url(#c3)"/>
<path d="M102.5 769L103.92 787.46L105.34 805.3L106.75 822.54L108.17 839.2L109.59 855.31L111.01 870.88L112.42 885.93L113.84 900.47L115.26 914.53L116.68 928.12L118.09 941.25L119.51 953.94L120.93 966.21L122.35 978.07L123.77 989.53L125.18 1000.6L126.6 1011.31L128.02 1021.66L129.44 1031.66L130.85 1041.33L132.27 1050.67L133.69 1059.7L135.11 1068.43L136.52 1076.86L137.94 1085.02L139.36 1092.9L140.78 1100.52L142.2 1107.88L143.61 1114.99L145.03 1121.87L146.45 1128.52L147.87 1134.94L149.28 1141.15L150.7 1147.16L152.12 1152.96L153.54 1158.57L154.95 1163.98L156.37 1169.22L157.79 1174.29L159.21 1179.18L160.63 1183.91L162.04 1188.48L163.46 1192.9L164.88 1197.17L166.3 1201.3L167.71 1205.29L169.13 1209.14L170.55 1212.87L171.97 1216.47L173.38 1219.95L174.8 1223.32L176.22 1226.57L177.64 1229.71L179.06 1232.75L180.47 1235.69L181.89 1238.53L183.31 1241.27L184.73 1243.92L186.14 1246.48L187.56 1248.96L188.98 1251.36L190.4 1253.67L191.81 1255.91L193.23 1258.07L194.65 1260.16L196.07 1262.18L197.49 1264.13L198.9 1266.02L200.32 1267.84L201.74 1269.6L203.16 1271.31L204.57 1272.95L205.99 1274.54L207.41 1276.08L208.83 1277.57L210.24 1279L211.66 1280.39L213.08 1281.74L214.5 1283.03L215.92 1284.29L217.33 1285.5L218.75 1286.67L220.17 1287.8L221.59 1288.9L223 1289.95L224.42 1290.98L225.84 1291.96L227.26 1292.92L228.67 1293.84L230.09 1294.73L231.51 1295.6L232.93 1296.43L234.35 1297.24L235.76 1298.01L237.18 1298.77L238.6 1299.49L240.02 1300.2L241.43 1300.88L242.85 1301.53L244.27 1302.17L245.69 1302.78L247.1 1303.37L248.52 1303.95L249.94 1304.5L251.36 1305.04L252.77 1305.55L254.19 1306.06L255.61 1306.54L257.03 1307.01L258.45 1307.46L259.86 1307.89L261.28 1308.32L262.7 1308.72L264.12 1309.12L265.53 1309.5L266.95 1309.87L268.37 1310.22L269.79 1310.57L271.2 1310.9L272.62 1311.22L274.04 1311.53L275.46 1311.83L276.88 1312.12L278.29 1312.4L279.71 1312.67L281.13 1312.93L282.55 1313.19L283.96 1313.43L285.38 1313.67L286.8 1313.9L288.22 1314.12L289.63 1314.33L291.05 1314.54L292.47 1314.74L293.89 1314.93L295.31 1315.12L296.72 1315.3L298.14 1315.47L299.56 1315.64L300.98 1315.8L302.39 1315.96L303.81 1316.11L305.23 1316.26L306.65 1316.4L308.06 1316.54L309.48 1316.67L310.9 1316.8L312.32 1316.92L313.74 1317.04L315.15 1317.16L316.57 1317.27L317.99 1317.38L319.41 1317.48L320.82 1317.58L322.24 1317.68L323.66 1317.78L325.08 1317.87L326.49 1317.95L327.91 1318.04L329.33 1318.12L330.75 1318.2L332.17 1318.28L333.58 1318.35L335 1318.42L336.42 1318.49L337.84 1318.56L339.25 1318.63L340.67 1318.69L342.09 1318.75L343.51 1318.81L344.92 1318.86L346.34 1318.92L347.76 1318.97L349.18 1319.02L350.6 1319.07L352.01 1319.12L353.43 1319.17L354.85 1319.21L356.27 1319.25L357.68 1319.3L359.1 1319.34L360.52 1319.38L361.94 1319.41L363.35 1319.45L364.77 1319.48L366.19 1319.52L367.61 1319.55L369.03 1319.58L370.44 1319.61L371.86 1319.64L373.28 1319.67L374.7 1319.7L376.11 1319.73L377.53 1319.75L378.95 1319.78L380.37 1319.8L381.78 1319.83L383.2 1319.85L384.62 1319.87" stroke="#cc79a7" stroke-width="1.1" fill="none" clip-path="url(#c3)" stroke-dasharray="17 9.4"/>
<g fill="#f0e442" stroke="#000" stroke-width="1.85"><circle cx="102.5" cy="919.58" r="6.35"/><circle cx="243.56" cy="1191.37" r="6.35"/><circle cx="384.62" cy="1289.73" r="6.35"/><circle cx="525.68" cy="1312.57" r="6.35"/><circle cx="666.74" cy="1319.57" r="6.35"/><circle cx="807.8" cy="1319.57" r="6.35"/></g>
<g fill="#cc79a7" stroke="#000" stroke-width="1.85" stroke-linejoin="miter"><path d="M102.5 760.22L94.9 773.39L110.1 773.39Z"/><path d="M243.56 1293.08L235.96 1306.24L251.16 1306.24Z"/><path d="M384.62 1311.26L377.02 1324.42L392.22 1324.42Z"/></g>
<g font-size="26.5" fill="#262626" text-anchor="middle"><text transform="translate(102.5 1357.7) scale(1 1.09)">0</text><text transform="translate(243.56 1357.7) scale(1 1.09)">1</text><text transform="translate(384.62 1357.7) scale(1 1.09)">2</text><text transform="translate(525.68 1357.7) scale(1 1.09)">3</text><text transform="translate(666.74 1357.7) scale(1 1.09)">4</text><text transform="translate(807.8 1357.7) scale(1 1.09)">5</text></g>
<g font-size="26.5" fill="#262626" text-anchor="end"><text transform="translate(92.1 1331.9) scale(1 1.09)">0</text><text transform="translate(92.1 1238.66) scale(1 1.09)">200</text><text transform="translate(92.1 1145.42) scale(1 1.09)">400</text><text transform="translate(92.1 1052.19) scale(1 1.09)">600</text><text transform="translate(92.1 958.95) scale(1 1.09)">800</text><text transform="translate(92.1 865.71) scale(1 1.09)">1000</text></g>
<text transform="translate(455.05 1395) scale(0.989 1.03)" font-size="28.9" fill="#262626" text-anchor="middle">Number of misrejoinings in nucleus</text>
<text transform="translate(21.7 1046.05) rotate(-90) scale(1 1.03)" font-size="28.9" fill="#262626" text-anchor="middle">Frequency</text>
<rect x="515.1" y="787.6" width="275.6" height="87.8" fill="#fff" stroke="#262626" stroke-width="1.25"/>
<circle cx="554.7" cy="810.6" r="6.35" fill="#f0e442" stroke="#000" stroke-width="1.85"/>
<path d="M554.7 843.52L547.1 856.69L562.3 856.69Z" fill="#cc79a7" stroke="#000" stroke-width="1.85"/>
<text x="591.3" y="815.5" font-size="23.6" fill="#000" style="stroke:#000">pO<tspan font-size="18.41" dy="10.6">2</tspan><tspan dy="-10.6" dx="1.6"> of 760 mmHg</tspan></text>
<text x="591.3" y="858.1" font-size="23.6" fill="#000" style="stroke:#000">pO<tspan font-size="18.41" dy="10.6">2</tspan><tspan dy="-10.6" dx="1.6"> of 0 mmHg</tspan></text>
<text class="lt" x="0.3" y="737.1" font-family="'Liberation Serif',serif" font-size="44.6" fill="#000" textLength="36" lengthAdjust="spacingAndGlyphs">C</text>
<path d="M935.7 1318.5V769.2M1076.2 1318.5V769.2M1216.7 1318.5V769.2M1357.2 1318.5V769.2M1497.7 1318.5V769.2M1638.2 1318.5V769.2M935.7 1318.5H1638.2M935.7 1226.95H1638.2M935.7 1135.4H1638.2M935.7 1043.85H1638.2M935.7 952.3H1638.2M935.7 860.75H1638.2M935.7 769.2H1638.2" stroke="#e3e3e3" stroke-width="1.2" fill="none"/>
<clipPath id="c4"><rect x="935.7" y="769.2" width="702.5" height="549.6"/></clipPath>
<path d="M935.7 769.2V1318.5H1638.2M935.7 1318.5v-7.4M1076.2 1318.5v-7.4M1216.7 1318.5v-7.4M1357.2 1318.5v-7.4M1497.7 1318.5v-7.4M1638.2 1318.5v-7.4M935.7 1318.5h7.4M935.7 1226.95h7.4M935.7 1135.4h7.4M935.7 1043.85h7.4M935.7 952.3h7.4M935.7 860.75h7.4M935.7 769.2h7.4" stroke="#262626" stroke-width="1.15" fill="none"/>
<path d="M957.65 1317.58L959.02 1317.69L960.38 1317.78L961.74 1317.85L963.11 1317.91L964.47 1317.95L965.84 1317.98L967.2 1318L968.56 1318L969.93 1317.99L971.29 1317.97L972.66 1317.94L974.02 1317.89L975.38 1317.83L976.75 1317.77L978.11 1317.69L979.47 1317.59L980.84 1317.49L982.2 1317.38L983.57 1317.26L984.93 1317.13L986.29 1316.99L987.66 1316.84L989.02 1316.68L990.38 1316.51L991.75 1316.34L993.11 1316.16L994.48 1315.97L995.84 1315.77L997.2 1315.56L998.57 1315.35L999.93 1315.14L1001.3 1314.91L1002.66 1314.69L1004.02 1314.45L1005.39 1314.21L1006.75 1313.97L1008.11 1313.72L1009.48 1313.47L1010.84 1313.22L1012.21 1312.96L1013.57 1312.7L1014.93 1312.43L1016.3 1312.16L1017.66 1311.89L1019.03 1311.62L1020.39 1311.35L1021.75 1311.07L1023.12 1310.8L1024.48 1310.52L1025.84 1310.24L1027.21 1309.97L1028.57 1309.69L1029.94 1309.41L1031.3 1309.13L1032.66 1308.85L1034.03 1308.56L1035.39 1308.28L1036.75 1307.99L1038.12 1307.71L1039.48 1307.42L1040.85 1307.13L1042.21 1306.84L1043.57 1306.55L1044.94 1306.25L1046.3 1305.95L1047.67 1305.66L1049.03 1305.36L1050.39 1305.05L1051.76 1304.75L1053.12 1304.44L1054.48 1304.13L1055.85 1303.82L1057.21 1303.51L1058.58 1303.19L1059.94 1302.87L1061.3 1302.55L1062.67 1302.23L1064.03 1301.9L1065.4 1301.57L1066.76 1301.24L1068.12 1300.9L1069.49 1300.57L1070.85 1300.22L1072.21 1299.88L1073.58 1299.53L1074.94 1299.18L1076.31 1298.82L1077.67 1298.47L1079.03 1298.1L1080.4 1297.74L1081.76 1297.37L1083.12 1296.99L1084.49 1296.62L1085.85 1296.24L1087.22 1295.85L1088.58 1295.46L1089.94 1295.07L1091.31 1294.67L1092.67 1294.27L1094.04 1293.86L1095.4 1293.45L1096.76 1293.03L1098.13 1292.61L1099.49 1292.19L1100.85 1291.76L1102.22 1291.32L1103.58 1290.88L1104.95 1290.44L1106.31 1289.99L1107.67 1289.53L1109.04 1289.07L1110.4 1288.61L1111.76 1288.14L1113.13 1287.66L1114.49 1287.18L1115.86 1286.69L1117.22 1286.2L1118.58 1285.7L1119.95 1285.2L1121.31 1284.69L1122.68 1284.17L1124.04 1283.66L1125.4 1283.13L1126.77 1282.6L1128.13 1282.07L1129.49 1281.53L1130.86 1280.98L1132.22 1280.43L1133.59 1279.88L1134.95 1279.32L1136.31 1278.75L1137.68 1278.18L1139.04 1277.61L1140.41 1277.03L1141.77 1276.44L1143.13 1275.86L1144.5 1275.26L1145.86 1274.66L1147.22 1274.06L1148.59 1273.45L1149.95 1272.84L1151.32 1272.22L1152.68 1271.6L1154.04 1270.97L1155.41 1270.34L1156.77 1269.7L1158.13 1269.06L1159.5 1268.41L1160.86 1267.76L1162.23 1267.11L1163.59 1266.45L1164.95 1265.79L1166.32 1265.12L1167.68 1264.45L1169.05 1263.77L1170.41 1263.09L1171.77 1262.4L1173.14 1261.71L1174.5 1261.02L1175.86 1260.32L1177.23 1259.62L1178.59 1258.91L1179.96 1258.2L1181.32 1257.49L1182.68 1256.77L1184.05 1256.04L1185.41 1255.32L1186.78 1254.59L1188.14 1253.85L1189.5 1253.11L1190.87 1252.37L1192.23 1251.62L1193.59 1250.87L1194.96 1250.12L1196.32 1249.36L1197.69 1248.6L1199.05 1247.83L1200.41 1247.06L1201.78 1246.29L1203.14 1245.51L1204.5 1244.73L1205.87 1243.95L1207.23 1243.16L1208.6 1242.37L1209.96 1241.57L1211.32 1240.77L1212.69 1239.97L1214.05 1239.16L1215.42 1238.35L1216.78 1237.54L1218.14 1236.72L1219.51 1235.9L1220.87 1235.08L1222.23 1234.26L1223.6 1233.43L1224.96 1232.59L1226.33 1231.76L1227.69 1230.92L1229.05 1230.07L1230.42 1229.23L1231.78 1228.38L1233.15 1227.53L1234.51 1226.67L1235.87 1225.81L1237.24 1224.95L1238.6 1224.09L1239.96 1223.22L1241.33 1222.35L1242.69 1221.48L1244.06 1220.6L1245.42 1219.72L1246.78 1218.84L1248.15 1217.96L1249.51 1217.07L1250.87 1216.18L1252.24 1215.28L1253.6 1214.39L1254.97 1213.49L1256.33 1212.59L1257.69 1211.68L1259.06 1210.78L1260.42 1209.87L1261.79 1208.96L1263.15 1208.04L1264.51 1207.13L1265.88 1206.21L1267.24 1205.29L1268.6 1204.36L1269.97 1203.43L1271.33 1202.51L1272.7 1201.57L1274.06 1200.64L1275.42 1199.7L1276.79 1198.77L1278.15 1197.82L1279.51 1196.88L1280.88 1195.94L1282.24 1194.99L1283.61 1194.04L1284.97 1193.09L1286.33 1192.13L1287.7 1191.18L1289.06 1190.22L1290.43 1189.26L1291.79 1188.3L1293.15 1187.34L1294.52 1186.37L1295.88 1185.4L1297.24 1184.43L1298.61 1183.46L1299.97 1182.49L1301.34 1181.51L1302.7 1180.53L1304.06 1179.55L1305.43 1178.57L1306.79 1177.59L1308.16 1176.6L1309.52 1175.62L1310.88 1174.63L1312.25 1173.64L1313.61 1172.65L1314.97 1171.65L1316.34 1170.66L1317.7 1169.66L1319.07 1168.66L1320.43 1167.66L1321.79 1166.66L1323.16 1165.65L1324.52 1164.65L1325.88 1163.64L1327.25 1162.63L1328.61 1161.62L1329.98 1160.61L1331.34 1159.6L1332.7 1158.58L1334.07 1157.57L1335.43 1156.55L1336.8 1155.53L1338.16 1154.51L1339.52 1153.49L1340.89 1152.46L1342.25 1151.44L1343.61 1150.41L1344.98 1149.38L1346.34 1148.35L1347.71 1147.32L1349.07 1146.29L1350.43 1145.26L1351.8 1144.22L1353.16 1143.19L1354.53 1142.15L1355.89 1141.11L1357.25 1140.07L1358.62 1139.03L1359.98 1137.99L1361.34 1136.95L1362.71 1135.9L1364.07 1134.86L1365.44 1133.81L1366.8 1132.77L1368.16 1131.72L1369.53 1130.67L1370.89 1129.62L1372.25 1128.56L1373.62 1127.51L1374.98 1126.46L1376.35 1125.4L1377.71 1124.35L1379.07 1123.29L1380.44 1122.23L1381.8 1121.17L1383.17 1120.12L1384.53 1119.06L1385.89 1117.99L1387.26 1116.93L1388.62 1115.87L1389.98 1114.81L1391.35 1113.74L1392.71 1112.68L1394.08 1111.61L1395.44 1110.54L1396.8 1109.48L1398.17 1108.41L1399.53 1107.34L1400.9 1106.27L1402.26 1105.2L1403.62 1104.13L1404.99 1103.06L1406.35 1101.98L1407.71 1100.91L1409.08 1099.84L1410.44 1098.77L1411.81 1097.69L1413.17 1096.62L1414.53 1095.54L1415.9 1094.46L1417.26 1093.39L1418.62 1092.31L1419.99 1091.23L1421.35 1090.16L1422.72 1089.08L1424.08 1088L1425.44 1086.92L1426.81 1085.84L1428.17 1084.76L1429.54 1083.68L1430.9 1082.6L1432.26 1081.52L1433.63 1080.44L1434.99 1079.36L1436.35 1078.28L1437.72 1077.2L1439.08 1076.11L1440.45 1075.03L1441.81 1073.95L1443.17 1072.87L1444.54 1071.79L1445.9 1070.7L1447.27 1069.62L1448.63 1068.54L1449.99 1067.45L1451.36 1066.37L1452.72 1065.29L1454.08 1064.21L1455.45 1063.12L1456.81 1062.04L1458.18 1060.96L1459.54 1059.87L1460.9 1058.79L1462.27 1057.71L1463.63 1056.63L1464.99 1055.54L1466.36 1054.46L1467.72 1053.38L1469.09 1052.3L1470.45 1051.21L1471.81 1050.13L1473.18 1049.05L1474.54 1047.97L1475.91 1046.89L1477.27 1045.81L1478.63 1044.73L1480 1043.65L1481.36 1042.57L1482.72 1041.49L1484.09 1040.41L1485.45 1039.33L1486.82 1038.25L1488.18 1037.17L1489.54 1036.1L1490.91 1035.02L1492.27 1033.94L1493.63 1032.87L1495 1031.79L1496.36 1030.71L1497.73 1029.64L1499.09 1028.56L1500.45 1027.49L1501.82 1026.42L1503.18 1025.34L1504.55 1024.27L1505.91 1023.2L1507.27 1022.13L1508.64 1021.06L1510 1019.99L1511.36 1018.92L1512.73 1017.85L1514.09 1016.79L1515.46 1015.72L1516.82 1014.65L1518.18 1013.59L1519.55 1012.52L1520.91 1011.46L1522.28 1010.4L1523.64 1009.34L1525 1008.28L1526.37 1007.22L1527.73 1006.16L1529.09 1005.1L1530.46 1004.04L1531.82 1002.98L1533.19 1001.93L1534.55 1000.87L1535.91 999.82L1537.28 998.77L1538.64 997.72L1540 996.66L1541.37 995.62L1542.73 994.57L1544.1 993.52L1545.46 992.47L1546.82 991.43L1548.19 990.38L1549.55 989.34L1550.92 988.3L1552.28 987.26L1553.64 986.22L1555.01 985.18L1556.37 984.14L1557.73 983.11L1559.1 982.07L1560.46 981.04L1561.83 980.01L1563.19 978.98L1564.55 977.95L1565.92 976.92L1567.28 975.9L1568.65 974.87L1570.01 973.85L1571.37 972.83L1572.74 971.81L1574.1 970.79L1575.46 969.77L1576.83 968.75L1578.19 967.74L1579.56 966.72L1580.92 965.71L1582.28 964.7L1583.65 963.69L1585.01 962.69L1586.37 961.68L1587.74 960.68L1589.1 959.68L1590.47 958.68L1591.83 957.68L1593.19 956.68L1594.56 955.68L1595.92 954.69L1597.29 953.7L1598.65 952.71L1600.01 951.72L1601.38 950.73L1602.74 949.75L1604.1 948.77L1605.47 947.78L1606.83 946.81L1608.2 945.83L1609.56 944.85L1610.92 943.88L1612.29 942.91L1613.65 941.94L1615.02 940.97L1616.38 940L1617.74 939.04L1619.11 938.08L1620.47 937.12L1621.83 936.16L1623.2 935.21L1624.56 934.25L1625.93 933.3L1627.29 932.35L1628.65 931.4L1630.02 930.46L1631.38 929.52L1632.74 928.58L1634.11 927.64L1635.47 926.7L1636.84 925.77L1638.2 924.84" stroke="#f0e442" stroke-width="1.1" fill="none" clip-path="url(#c4)"/>
<path d="M1638.2 776.98L1633.32 795.1L1628.48 812.62L1623.67 829.55L1618.89 845.92L1614.15 861.73L1609.44 877.02L1604.77 891.79L1600.12 906.07L1595.51 919.88L1590.93 933.22L1586.38 946.11L1581.86 958.58L1577.38 970.62L1572.92 982.26L1568.5 993.52L1564.1 1004.39L1559.74 1014.91L1555.41 1025.07L1551.11 1034.89L1546.84 1044.38L1542.59 1053.55L1538.38 1062.42L1534.2 1070.99L1530.04 1079.27L1525.92 1087.28L1521.82 1095.02L1517.75 1102.5L1513.71 1109.73L1509.7 1116.71L1505.71 1123.47L1501.75 1129.99L1497.82 1136.3L1493.92 1142.4L1490.05 1148.29L1486.2 1153.99L1482.38 1159.5L1478.58 1164.82L1474.81 1169.96L1471.07 1174.93L1467.35 1179.74L1463.66 1184.38L1460 1188.87L1456.36 1193.21L1452.74 1197.4L1449.15 1201.45L1445.59 1205.37L1442.05 1209.16L1438.54 1212.82L1435.04 1216.35L1431.58 1219.77L1428.14 1223.08L1424.72 1226.27L1421.32 1229.36L1417.95 1232.34L1414.6 1235.22L1411.28 1238.01L1407.98 1240.7L1404.7 1243.31L1401.44 1245.82L1398.21 1248.26L1395 1250.61L1391.81 1252.88L1388.64 1255.08L1385.5 1257.2L1382.38 1259.25L1379.28 1261.23L1376.2 1263.15L1373.14 1265L1370.1 1266.79L1367.09 1268.52L1364.09 1270.2L1361.12 1271.81L1358.16 1273.37L1355.23 1274.88L1352.32 1276.34L1349.43 1277.76L1346.55 1279.12L1343.7 1280.44L1340.87 1281.71L1338.06 1282.94L1335.26 1284.13L1332.49 1285.28L1329.74 1286.39L1327 1287.47L1324.28 1288.51L1321.59 1289.51L1318.91 1290.48L1316.25 1291.42L1313.61 1292.33L1310.98 1293.2L1308.38 1294.05L1305.79 1294.87L1303.22 1295.66L1300.67 1296.42L1298.14 1297.16L1295.62 1297.87L1293.12 1298.56L1290.64 1299.23L1288.18 1299.88L1285.73 1300.5L1283.3 1301.1L1280.89 1301.68L1278.49 1302.25L1276.11 1302.79L1273.75 1303.32L1271.4 1303.83L1269.07 1304.32L1266.76 1304.79L1264.46 1305.25L1262.17 1305.69L1259.91 1306.12L1257.66 1306.54L1255.42 1306.94L1253.2 1307.32L1251 1307.7L1248.81 1308.06L1246.64 1308.41L1244.48 1308.75L1242.33 1309.07L1240.21 1309.39L1238.09 1309.69L1235.99 1309.99L1233.91 1310.27L1231.84 1310.55L1229.78 1310.81L1227.74 1311.07L1225.71 1311.32L1223.7 1311.56L1221.7 1311.79L1219.71 1312.02L1217.74 1312.23L1215.79 1312.44L1213.84 1312.65L1211.91 1312.84L1209.99 1313.03L1208.09 1313.21L1206.2 1313.39L1204.32 1313.56L1202.45 1313.73L1200.6 1313.89L1198.76 1314.04L1196.94 1314.19L1195.12 1314.34L1193.32 1314.47L1191.53 1314.61L1189.76 1314.74L1187.99 1314.87L1186.24 1314.99L1184.5 1315.1L1182.78 1315.22L1181.06 1315.33L1179.36 1315.43L1177.67 1315.54L1175.99 1315.64L1174.32 1315.73L1172.66 1315.82L1171.02 1315.91L1169.38 1316L1167.76 1316.08L1166.15 1316.17L1164.55 1316.24L1162.96 1316.32L1161.38 1316.39L1159.82 1316.46L1158.26 1316.53L1156.72 1316.6L1155.18 1316.66L1153.66 1316.72L1152.15 1316.78L1150.64 1316.84L1149.15 1316.89L1147.67 1316.95L1146.2 1317L1144.74 1317.05L1143.29 1317.1L1141.84 1317.15L1140.41 1317.19L1138.99 1317.23L1137.58 1317.28L1136.18 1317.32L1134.79 1317.36L1133.41 1317.4L1132.03 1317.43L1130.67 1317.47L1129.32 1317.5L1127.97 1317.54L1126.64 1317.57L1125.31 1317.6L1124 1317.63L1122.69 1317.66L1121.39 1317.69L1120.1 1317.71L1118.82 1317.74L1117.55 1317.77L1116.29 1317.79L1115.03 1317.81L1113.79 1317.84L1112.55 1317.86L1111.33 1317.88" stroke="#cc79a7" stroke-width="1.1" fill="none" clip-path="url(#c4)" stroke-dasharray="17 9.4"/>
<g fill="#f0e442" stroke="#000" stroke-width="1.85"><circle cx="1638.2" cy="924.84" r="6.35"/><circle cx="1286.95" cy="1191.7" r="6.35"/><circle cx="1111.33" cy="1288.29" r="6.35"/><circle cx="1023.51" cy="1310.72" r="6.35"/><circle cx="979.61" cy="1317.58" r="6.35"/><circle cx="957.65" cy="1317.58" r="6.35"/></g>
<g fill="#cc79a7" stroke="#000" stroke-width="1.85" stroke-linejoin="miter"><path d="M1638.2 768.21L1630.6 781.37L1645.8 781.37Z"/><path d="M1286.95 1291.41L1279.35 1304.58L1294.55 1304.58Z"/><path d="M1111.33 1309.27L1103.73 1322.43L1118.92 1322.43Z"/></g>
<g font-size="26.5" fill="#262626" text-anchor="middle"><text transform="translate(935.7 1356.1) scale(1 1.09)">0</text><text transform="translate(1076.2 1356.1) scale(1 1.09)">0.2</text><text transform="translate(1216.7 1356.1) scale(1 1.09)">0.4</text><text transform="translate(1357.2 1356.1) scale(1 1.09)">0.6</text><text transform="translate(1497.7 1356.1) scale(1 1.09)">0.8</text><text transform="translate(1638.2 1356.1) scale(1 1.09)">1</text></g>
<g font-size="26.5" fill="#262626" text-anchor="end"><text transform="translate(925.3 1329.9) scale(1 1.09)">0</text><text transform="translate(925.3 1238.35) scale(1 1.09)">200</text><text transform="translate(925.3 1146.8) scale(1 1.09)">400</text><text transform="translate(925.3 1055.25) scale(1 1.09)">600</text><text transform="translate(925.3 963.7) scale(1 1.09)">800</text><text transform="translate(925.3 872.15) scale(1 1.09)">1000</text><text transform="translate(925.3 780.6) scale(1 1.09)">1200</text></g>
<text transform="translate(1287.25 1394) scale(0.984 1.03)" font-size="28.9" fill="#262626" text-anchor="middle">Probability of cell survival</text>
<text transform="translate(855 1045.15) rotate(-90) scale(1 1.03)" font-size="28.9" fill="#262626" text-anchor="middle">Frequency</text>
<rect x="952.6" y="787.5" width="275.1" height="87.4" fill="#fff" stroke="#262626" stroke-width="1.25"/>
<circle cx="992.2" cy="810.3" r="6.35" fill="#f0e442" stroke="#000" stroke-width="1.85"/>
<path d="M992.2 843.22L984.6 856.39L999.8 856.39Z" fill="#cc79a7" stroke="#000" stroke-width="1.85"/>
<text x="1028.8" y="815.2" font-size="23.6" fill="#000" style="stroke:#000">pO<tspan font-size="18.41" dy="10.6">2</tspan><tspan dy="-10.6" dx="1.6"> of 760 mmHg</tspan></text>
<text x="1028.8" y="857.8" font-size="23.6" fill="#000" style="stroke:#000">pO<tspan font-size="18.41" dy="10.6">2</tspan><tspan dy="-10.6" dx="1.6"> of 0 mmHg</tspan></text>
<text class="lt" x="833" y="738.9" font-family="'Liberation Serif',serif" font-size="44.6" fill="#000" textLength="37.4" lengthAdjust="spacingAndGlyphs">D</text>
</svg></body></html>
